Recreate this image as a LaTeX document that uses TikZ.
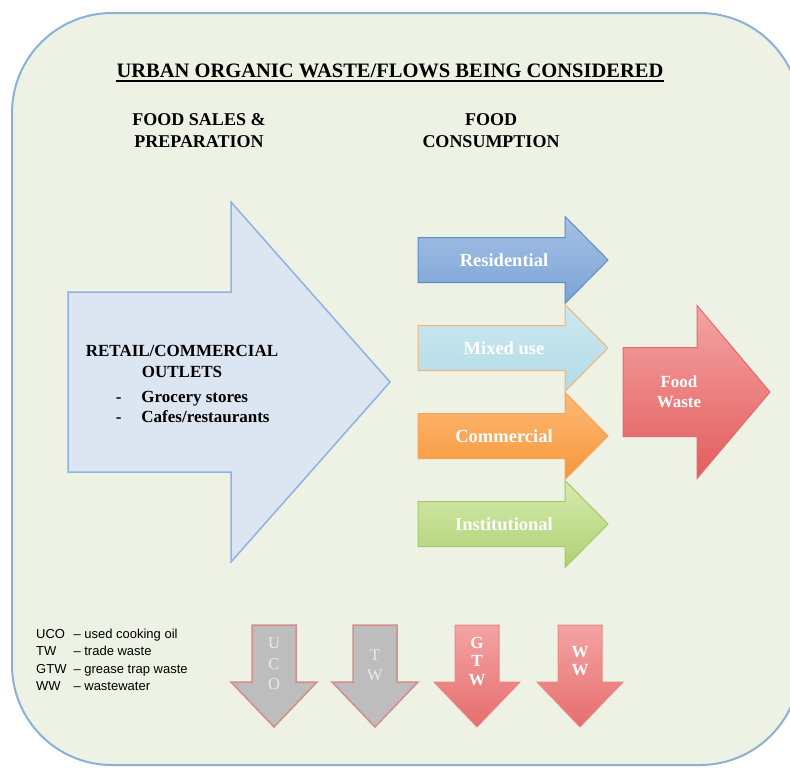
\documentclass[tikz,border=0pt]{standalone}
\usepackage{fontspec}
\setmainfont{Liberation Serif}
\setsansfont{Liberation Sans}
\usetikzlibrary{positioning}

\definecolor{panelfill}{HTML}{EEF2E5}
\definecolor{panelline}{HTML}{8DB0D6}
\definecolor{bigfill}{HTML}{DCE6F2}
\definecolor{bigline}{HTML}{8DB3E2}
\definecolor{resitop}{HTML}{A5C0E3}
\definecolor{resibot}{HTML}{7AA4D8}
\definecolor{resiline}{HTML}{5B8BC9}
\definecolor{mixtop}{HTML}{CDE8F0}
\definecolor{mixbot}{HTML}{B2DBE8}
\definecolor{mixline}{HTML}{F3B56F}
\definecolor{comtop}{HTML}{FDBA75}
\definecolor{combot}{HTML}{F7963A}
\definecolor{comline}{HTML}{F4A35A}
\definecolor{insttop}{HTML}{D6EAAE}
\definecolor{instbot}{HTML}{AED174}
\definecolor{instline}{HTML}{A2C867}
\definecolor{wastetop}{HTML}{F5A3A3}
\definecolor{wastebot}{HTML}{E35D5D}
\definecolor{wasteline}{HTML}{E46A6A}
\definecolor{greyfill}{HTML}{BDBDBD}
\definecolor{pinkline}{HTML}{D48C8C}

\tikzset{
  panel/.style={draw=panelline, line width=2pt, fill=panelfill, rounded corners=100pt},
  bigarrow/.style={draw=bigline, line width=1.5pt, fill=bigfill},
  resi/.style={draw=resiline, line width=1pt, top color=resitop, bottom color=resibot},
  mix/.style={draw=mixline, line width=1pt, top color=mixtop, bottom color=mixbot},
  com/.style={draw=comline, line width=1pt, top color=comtop, bottom color=combot},
  inst/.style={draw=instline, line width=1pt, top color=insttop, bottom color=instbot},
  waste/.style={draw=wasteline, line width=1pt, top color=wastetop, bottom color=wastebot},
  greydown/.style={draw=pinkline, line width=1.5pt, fill=greyfill},
  reddown/.style={draw=wasteline!80, line width=1pt, top color=wastetop, bottom color=wastebot!90},
  title/.style={inner sep=0pt, font=\bfseries\fontsize{20.5}{24}\selectfont},
  head/.style={inner sep=0pt, align=center, font=\bfseries\fontsize{18}{22}\selectfont},
  lbl/.style={inner sep=0pt, text=white, font=\bfseries\fontsize{18.5}{22}\selectfont},
  letters/.style={inner sep=0pt, text=white!92!black, align=center, font=\fontsize{16.5}{20.5}\selectfont},
  redletters/.style={inner sep=0pt, text=white, align=center, font=\bfseries\fontsize{17}{18.5}\selectfont},
  legend/.style={inner sep=0pt, font=\sffamily\fontsize{13}{17.5}\selectfont}
}

% style, left x, centre y, neck x, tip x, half shaft, half head
\newcommand{\flowright}[7]{%
  \path[#1] (#2,#3-#6) -- (#4,#3-#6) -- (#4,#3-#7) -- (#5,#3)
    -- (#4,#3+#7) -- (#4,#3+#6) -- (#2,#3+#6) -- cycle;}
% style, centre x, top y, neck y, tip y, half shaft, half head
\newcommand{\flowdown}[7]{%
  \path[#1] (#2-#6,#3) -- (#2+#6,#3) -- (#2+#6,#4) -- (#2+#7,#4)
    -- (#2,#5) -- (#2-#7,#4) -- (#2-#6,#4) -- cycle;}

\begin{document}
\begin{tikzpicture}[x=1pt, y=-1pt]
  \useasboundingbox (0,0) rectangle (790,769);
  \fill[white] (0,0) rectangle (790,769);
  \draw[panel] (12,13) rectangle (800,765);

  \node[title, anchor=base] (title) at (390,77) {URBAN ORGANIC WASTE/FLOWS BEING CONSIDERED};
  \draw[line width=2pt] ([yshift=-3.5pt]title.base west) -- ([yshift=-3.5pt]title.base east);

  \node[head] (sales) at (199,131) {FOOD SALES \&\\PREPARATION};
  \node[head] (consume) at (491,131) {FOOD\\CONSUMPTION};

  % food sales
  \flowright{bigarrow}{68}{382}{231}{390}{90}{180}
  \node[head, font=\bfseries\fontsize{17}{21}\selectfont] (retail) at (182,361) {RETAIL/COMMERCIAL\\OUTLETS};
  \node[head, align=left, font=\bfseries\fontsize{17}{20}\selectfont, below=14pt of retail.south west, anchor=north west, xshift=30pt] (outlets)
    {-\hspace{20pt}Grocery stores\\-\hspace{20pt}Cafes/restaurants};

  % food consumption
  \foreach \cy/\sty/\nm/\lbl in {260/resi/resi/Residential, 348/mix/mix/Mixed use,
                                 436/com/com/Commercial, 524/inst/inst/Institutional}{
    \flowright{\sty}{418}{\cy}{565}{608}{22.5}{43.5}
    \node[lbl] (\nm) at (504,\cy) {\lbl};
  }

  \flowright{waste}{623}{392}{697}{770}{44.5}{86.5}
  \node[lbl, align=center, font=\bfseries\fontsize{17}{20}\selectfont] (foodwaste) at (679,392) {Food\\Waste};

  % waste streams
  \flowdown{greydown}{274}{625}{682}{727}{22}{43}
  \flowdown{greydown}{375}{625}{682}{727}{22}{43}
  \flowdown{reddown}{477}{625}{682}{727}{22}{43}
  \flowdown{reddown}{580}{625}{682}{727}{22}{43}
  \node[letters] (uco) at (274,664) {U\\C\\O};
  \node[letters] (tw) at (375,665) {T\\W};
  \node[redletters] (gtw) at (477,661) {G\\T\\W};
  \node[redletters] (ww) at (580,661) {W\\W};

  \node[legend, anchor=north west] (key) at (36,626) {%
    \begin{tabular}{@{}l@{\hspace{7pt}}l@{}}
      UCO & -- used cooking oil\\
      TW  & -- trade waste\\
      GTW & -- grease trap waste\\
      WW  & -- wastewater
    \end{tabular}};
\end{tikzpicture}
\end{document}
